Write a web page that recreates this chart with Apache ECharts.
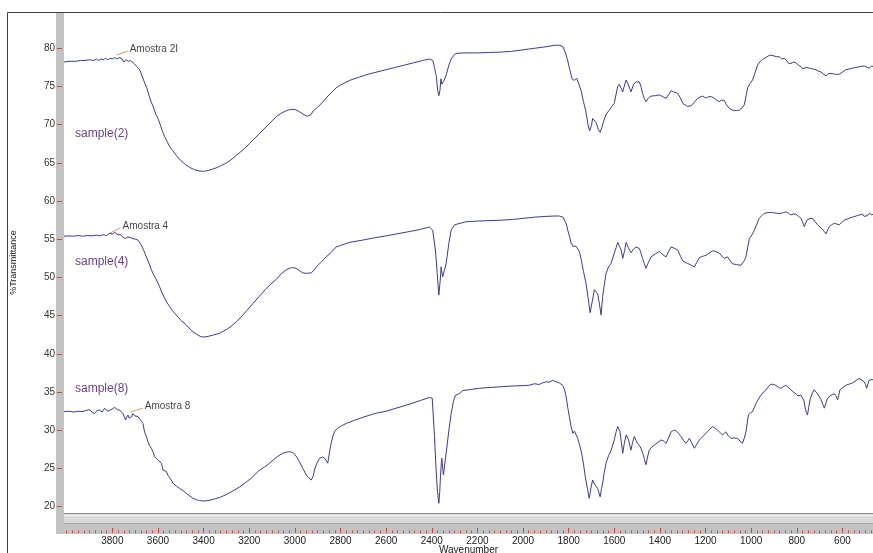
<!DOCTYPE html>
<html>
<head>
<meta charset="utf-8">
<script src="https://cdn.jsdelivr.net/npm/echarts@6/dist/echarts.min.js"></script>
<style>
  html, body { margin: 0; padding: 0; background: #fff; }
  #chart { width: 873px; height: 553px; }
</style>
</head>
<body>
<div id="chart"></div>
<script>
// FTIR spectra: [wavenumber (cm-1), %Transmittance]
const sample2 = [
  [4012,78.2],[3990,78.3],[3960,78.3],[3940,78.4],[3920,78.4],[3900,78.5],[3880,78.4],[3870,78.6],[3860,78.4],[3850,78.6],
  [3840,78.5],[3830,78.7],[3820,78.5],[3810,78.7],[3800,78.6],[3790,78.8],[3780,78.6],[3770,78.8],[3760,78.7],[3750,78.2],
  [3740,78.5],[3730,78.3],[3720,78.4],[3705,78.0],[3690,77.5],[3680,77.2],[3670,76.4],[3660,75.6],[3650,74.9],[3640,73.9],
  [3630,73.0],[3620,72.3],[3610,71.4],[3600,70.8],[3590,70.0],[3580,69.1],[3570,68.4],[3560,67.8],[3550,67.2],[3535,66.6],
  [3520,66.0],[3500,65.3],[3480,64.8],[3460,64.4],[3440,64.1],[3420,63.95],[3400,63.9],[3380,64.0],[3360,64.2],[3340,64.4],
  [3320,64.7],[3300,65.0],[3280,65.4],[3260,65.9],[3240,66.4],[3220,66.9],[3200,67.5],[3180,68.1],[3160,68.7],[3140,69.3],
  [3120,69.9],[3100,70.5],[3080,71.1],[3060,71.5],[3040,71.8],[3020,72.0],[3000,72.0],[2980,71.7],[2960,71.3],[2945,71.1],
  [2930,71.3],[2920,71.8],[2900,72.3],[2880,72.9],[2860,73.6],[2840,74.2],[2820,74.8],[2800,75.2],[2760,75.8],[2720,76.2],
  [2680,76.6],[2640,76.9],[2600,77.2],[2560,77.5],[2520,77.8],[2480,78.1],[2440,78.4],[2410,78.6],[2395,78.4],[2388,77.5],
  [2380,76.3],[2374,74.5],[2369,73.8],[2364,74.5],[2360,76.0],[2356,75.3],[2352,75.1],[2346,75.8],[2337,76.5],[2325,77.8],
  [2315,78.6],[2300,79.2],[2290,79.35],[2250,79.4],[2200,79.4],[2150,79.45],[2100,79.5],[2050,79.6],[2000,79.8],[1950,80.0],
  [1900,80.2],[1860,80.4],[1840,80.4],[1825,80.2],[1815,79.5],[1805,78.5],[1795,77.2],[1785,76.0],[1775,75.8],[1765,76.1],
  [1755,75.3],[1745,74.4],[1735,73.0],[1725,71.8],[1715,70.0],[1708,69.2],[1700,69.9],[1695,70.8],[1688,70.8],[1680,70.3],
  [1670,69.4],[1662,69.0],[1655,69.6],[1645,70.6],[1635,71.4],[1622,71.9],[1610,72.4],[1600,72.8],[1592,74.0],[1585,75.0],
  [1578,75.3],[1570,75.4],[1563,74.3],[1555,75.2],[1548,75.85],[1538,75.2],[1527,74.3],[1515,75.3],[1505,75.6],[1490,75.6],
  [1483,75.0],[1476,74.1],[1468,73.4],[1461,73.0],[1450,73.5],[1439,73.75],[1420,73.8],[1403,73.9],[1390,73.7],[1373,73.45],
  [1360,74.0],[1351,74.45],[1340,74.3],[1322,74.1],[1310,73.5],[1300,72.8],[1293,72.6],[1280,72.4],[1264,72.45],[1250,72.9],
  [1235,73.45],[1225,73.6],[1213,73.75],[1200,73.5],[1191,73.6],[1180,73.7],[1169,73.6],[1155,73.3],[1140,73.0],[1130,73.2],
  [1118,73.2],[1108,72.6],[1096,72.15],[1082,71.9],[1065,71.85],[1052,71.9],[1040,72.2],[1030,72.6],[1022,73.8],[1016,74.8],
  [1005,75.4],[994,75.85],[983,76.8],[972,77.8],[960,78.3],[950,78.55],[935,78.8],[925,79.0],[914,79.1],[900,79.0],
  [890,78.9],[877,78.9],[866,78.6],[855,78.7],[845,78.4],[835,78.0],[826,78.0],[815,78.2],[804,78.1],[793,77.8],
  [782,77.6],[775,77.3],[767,77.25],[756,77.5],[745,77.4],[730,77.3],[716,77.2],[705,77.0],[694,76.9],[683,76.6],
  [672,76.4],[660,76.7],[650,76.7],[643,76.8],[630,76.6],[614,76.6],[600,76.9],[585,77.2],[570,77.3],[555,77.4],
  [541,77.5],[520,77.6],[505,77.7],[498,77.7],[483,77.4],[471,77.7],[466,77.6]
];

const sample4 = [
  [4012,55.4],[3990,55.45],[3970,55.4],[3950,55.5],[3930,55.4],[3910,55.5],[3890,55.45],[3870,55.55],[3855,55.45],[3840,55.6],
  [3825,55.5],[3812,55.8],[3800,55.7],[3790,55.9],[3775,55.6],[3765,55.6],[3754,55.3],[3745,55.1],[3739,55.0],[3732,55.3],
  [3720,55.2],[3710,55.1],[3698,55.0],[3688,54.9],[3680,54.7],[3673,54.25],[3662,53.5],[3651,52.7],[3640,51.9],[3629,51.0],
  [3618,50.3],[3607,49.7],[3593,48.8],[3582,48.0],[3571,47.3],[3560,46.7],[3549,46.2],[3535,45.6],[3520,45.1],[3500,44.4],
  [3476,43.8],[3455,43.1],[3432,42.6],[3415,42.3],[3403,42.2],[3380,42.3],[3360,42.45],[3330,42.7],[3300,43.2],[3280,43.6],
  [3257,44.2],[3230,45.0],[3210,45.7],[3184,46.6],[3160,47.4],[3130,48.4],[3111,49.0],[3080,49.8],[3060,50.5],[3038,51.0],
  [3020,51.25],[3009,51.3],[2995,51.2],[2980,50.9],[2965,50.6],[2950,50.55],[2928,50.6],[2915,51.0],[2906,51.4],[2885,52.0],
  [2863,52.7],[2840,53.3],[2819,54.0],[2800,54.2],[2760,54.6],[2702,54.9],[2650,55.2],[2600,55.45],[2556,55.7],[2500,56.0],
  [2450,56.3],[2410,56.6],[2396,56.2],[2384,53.6],[2376,50.5],[2369,47.7],[2363,49.6],[2359,51.4],[2355,50.6],[2352,50.1],
  [2345,50.9],[2337,51.85],[2325,54.5],[2315,56.2],[2300,56.9],[2293,57.1],[2250,57.3],[2191,57.4],[2100,57.5],[2045,57.6],
  [1950,57.9],[1899,58.0],[1860,58.05],[1841,58.05],[1825,57.9],[1819,57.75],[1810,57.0],[1804,56.2],[1795,55.2],[1789,54.5],
  [1782,54.1],[1775,54.0],[1768,54.1],[1761,54.25],[1753,53.4],[1746,52.5],[1735,50.8],[1724,49.25],[1715,47.4],[1706,45.4],
  [1697,46.8],[1687,48.4],[1680,48.3],[1673,47.9],[1665,46.5],[1658,45.1],[1651,47.5],[1644,49.0],[1636,50.55],[1625,51.4],
  [1614,51.85],[1600,53.2],[1592,53.9],[1585,54.6],[1578,54.1],[1570,53.6],[1563,52.5],[1555,53.5],[1548,54.6],[1538,53.9],
  [1527,53.25],[1516,53.7],[1505,54.0],[1490,53.8],[1483,53.2],[1476,52.5],[1468,51.8],[1461,51.2],[1450,52.0],[1439,52.7],
  [1420,53.1],[1403,53.4],[1388,53.0],[1373,52.7],[1362,53.4],[1351,54.0],[1335,53.8],[1322,53.6],[1310,52.8],[1300,52.2],
  [1290,52.0],[1279,51.85],[1262,51.6],[1249,51.4],[1238,52.0],[1227,52.6],[1210,52.8],[1198,52.9],[1185,53.2],[1169,53.5],
  [1155,53.4],[1140,53.2],[1128,52.8],[1118,52.5],[1104,52.7],[1092,52.2],[1082,51.8],[1065,51.7],[1045,51.6],[1030,52.2],
  [1023,52.7],[1015,54.0],[1008,55.1],[996,55.6],[986,56.2],[975,57.0],[965,57.75],[953,58.1],[943,58.4],[925,58.5],
  [906,58.5],[888,58.4],[870,58.4],[858,58.5],[848,58.6],[836,58.4],[826,58.2],[815,58.3],[804,58.3],[793,58.0],
  [782,57.75],[775,57.3],[767,56.65],[760,57.2],[753,57.6],[742,57.7],[731,57.75],[720,57.3],[709,56.9],[698,56.6],
  [687,56.3],[679,56.0],[672,55.7],[665,56.2],[658,56.65],[647,56.9],[636,57.1],[625,57.0],[614,56.9],[603,57.2],
  [592,57.5],[575,57.7],[556,57.9],[535,58.1],[512,58.3],[505,58.0],[498,57.75],[490,58.1],[483,58.4],[471,58.2],[466,58.3]
];

const sample8 = [
  [4012,32.45],[3990,32.5],[3970,32.4],[3950,32.5],[3929,32.45],[3915,32.6],[3899,32.7],[3888,32.3],[3878,32.2],[3866,32.6],
  [3856,32.65],[3845,32.4],[3834,32.9],[3822,32.5],[3812,32.6],[3800,32.8],[3790,33.0],[3778,32.7],[3768,32.65],[3760,32.5],
  [3754,32.2],[3748,31.8],[3742,31.35],[3737,31.7],[3732,32.0],[3726,31.6],[3720,31.4],[3715,31.8],[3710,32.2],[3702,31.9],
  [3695,31.7],[3688,31.8],[3680,31.6],[3673,31.2],[3666,30.9],[3659,29.8],[3652,29.3],[3644,28.5],[3637,28.0],[3629,27.65],
  [3622,27.2],[3615,26.55],[3608,26.4],[3600,26.1],[3593,25.9],[3585,25.7],[3578,24.8],[3570,24.9],[3563,24.6],[3556,24.1],
  [3549,23.85],[3542,23.5],[3535,23.1],[3520,22.7],[3505,22.4],[3490,22.1],[3476,21.75],[3460,21.4],[3447,21.1],[3430,20.9],
  [3418,20.8],[3403,20.75],[3380,20.8],[3355,21.0],[3330,21.2],[3300,21.6],[3270,22.1],[3242,22.6],[3210,23.3],[3185,23.9],
  [3169,24.4],[3150,24.9],[3133,25.2],[3115,25.6],[3096,26.1],[3075,26.6],[3053,27.0],[3038,27.15],[3023,27.2],[3010,27.1],
  [3001,26.9],[2990,26.4],[2980,25.9],[2965,25.0],[2950,24.15],[2940,23.8],[2928,23.5],[2920,24.0],[2914,24.8],[2905,25.6],
  [2892,26.35],[2880,26.5],[2870,26.35],[2862,26.0],[2856,25.7],[2848,27.2],[2841,28.3],[2834,29.2],[2825,29.9],[2812,30.3],
  [2795,30.6],[2775,30.9],[2740,31.3],[2702,31.7],[2650,32.2],[2600,32.5],[2556,32.9],[2500,33.4],[2450,33.9],[2410,34.3],
  [2398,34.2],[2388,29.2],[2381,24.8],[2375,22.0],[2369,20.45],[2365,22.0],[2362,23.9],[2358,25.8],[2356,26.35],[2352,25.0],
  [2349,24.15],[2343,25.6],[2337,27.0],[2325,30.0],[2315,32.2],[2305,33.8],[2296,34.6],[2279,34.8],[2264,35.2],[2230,35.35],
  [2191,35.5],[2150,35.6],[2100,35.7],[2045,35.8],[2000,35.85],[1972,35.9],[1950,36.1],[1930,36.0],[1915,36.2],[1899,36.35],
  [1885,36.3],[1870,36.55],[1862,36.3],[1855,36.35],[1848,36.5],[1841,36.2],[1826,35.9],[1818,35.3],[1811,34.4],[1804,33.0],
  [1797,31.8],[1790,30.6],[1782,29.6],[1775,29.9],[1768,29.7],[1761,29.0],[1754,28.3],[1746,27.4],[1739,26.35],[1733,25.2],
  [1727,23.9],[1718,22.4],[1710,21.1],[1702,22.5],[1695,23.5],[1689,23.1],[1683,22.8],[1678,22.6],[1673,22.4],[1667,21.8],
  [1662,21.3],[1656,22.4],[1651,23.1],[1644,24.5],[1636,25.7],[1625,26.7],[1614,27.4],[1600,28.75],[1592,29.8],[1585,30.5],
  [1575,29.8],[1569,28.5],[1563,27.0],[1556,28.3],[1548,29.4],[1543,29.2],[1537,28.75],[1532,28.0],[1527,27.4],[1520,28.4],
  [1512,29.2],[1505,28.7],[1498,28.3],[1490,28.0],[1483,27.65],[1475,27.0],[1468,26.2],[1461,25.5],[1454,26.5],[1447,27.4],
  [1436,27.8],[1425,28.05],[1410,28.4],[1395,28.75],[1384,28.6],[1373,28.3],[1362,29.0],[1351,29.8],[1340,30.0],[1330,30.0],
  [1319,29.6],[1308,29.2],[1297,28.7],[1286,28.3],[1278,28.6],[1271,28.95],[1260,28.3],[1249,27.65],[1238,28.2],[1227,28.75],
  [1212,29.2],[1198,29.6],[1183,30.1],[1169,30.5],[1158,30.3],[1147,30.0],[1136,29.7],[1125,29.4],[1118,29.6],[1111,29.8],
  [1100,29.3],[1089,28.95],[1075,29.0],[1060,28.95],[1049,28.6],[1038,28.3],[1030,29.0],[1023,29.8],[1016,31.2],[1012,32.0],
  [1003,32.3],[994,32.45],[986,33.0],[979,33.5],[968,34.1],[957,34.6],[946,35.0],[935,35.3],[925,35.7],[914,36.05],
  [903,36.0],[892,35.9],[880,35.6],[870,35.5],[860,35.7],[848,35.9],[837,35.6],[826,35.3],[815,35.0],[804,34.8],
  [796,34.5],[789,34.4],[782,34.6],[775,34.8],[769,33.9],[763,32.9],[758,32.3],[753,32.0],[748,33.0],[742,34.0],
  [733,34.8],[724,35.3],[716,35.1],[709,34.8],[701,34.4],[694,34.0],[686,33.4],[679,32.9],[672,33.6],[665,34.2],
  [657,34.4],[650,34.6],[643,34.7],[636,34.8],[628,34.5],[621,34.0],[616,34.6],[611,35.3],[598,35.6],[585,35.9],
  [570,36.05],[556,36.2],[541,36.5],[527,36.8],[516,36.6],[505,36.35],[499,36.0],[494,35.5],[488,36.1],[483,36.55],
  [477,36.6],[471,36.65],[466,36.6]
];

// Sample names and peak-table annotations
const sampleNames = ['sample(2)', 'sample(4)', 'sample(8)'];
const annotationText = ['Amostra 2I', 'Amostra 4', 'Amostra 8'];
const leaderFrom = [[3781, 79.1], [3812, 55.8], [3720, 32.4]];
const leaderTo = [[3733, 79.65], [3764, 56.5], [3667, 32.9]];

// Axis ticks
const yTicks = [20, 25, 30, 35, 40, 45, 50, 55, 60, 65, 70, 75, 80];
const xMajorTicks = [600, 800, 1000, 1200, 1400, 1600, 1800, 2000, 2200, 2400, 2600, 2800, 3000, 3200, 3400, 3600, 3800];
const xMinorTicks = [];
for (let w = 475; w <= 4000; w += 25) xMinorTicks.push(w);

const X_MIN = 466, X_MAX = 4012, Y_MIN = 19.18, Y_MAX = 84.75;
const FONT = 'Liberation Sans';
const TICK_RED = '#e0403a';
const LINE_BLUE = '#3a3a9a';

const chart = echarts.init(document.getElementById('chart'), null, { renderer: 'canvas' });

const spectra = [sample2, sample4, sample8].map((d, i) => ({
  type: 'line',
  name: sampleNames[i],
  data: d,
  xAxisIndex: 0,
  yAxisIndex: 0,
  showSymbol: false,
  symbol: 'none',
  smooth: false,
  clip: true,
  lineStyle: { color: LINE_BLUE, width: 1 },
  z: 3,
  silent: true
}));

const leaders = annotationText.map((t, i) => ({
  type: 'line',
  data: [leaderFrom[i], leaderTo[i]],
  showSymbol: false,
  symbol: 'none',
  lineStyle: { color: '#d49a5c', width: 1 },
  z: 4,
  silent: true
}));

const annotationLabels = {
  type: 'scatter',
  data: leaderTo.map((p, i) => ({ value: p, name: annotationText[i] })),
  symbolSize: 0,
  z: 5,
  silent: true,
  label: {
    show: true,
    position: 'right',
    distance: 2,
    offset: [0, -2],
    formatter: p => p.name,
    color: '#111',
    fontFamily: FONT,
    fontSize: 10
  }
};

const plainNumber = v => String(v);

const option = {
  animation: false,
  backgroundColor: '#ffffff',
  grid: { left: 64, right: 0, top: 12, bottom: 40, containLabel: false, outerBoundsMode: 'none' },
  xAxis: [
    {
      type: 'value',
      min: X_MIN, max: X_MAX,
      inverse: true,
      position: 'bottom',
      offset: 20,
      z: 6,
      name: 'Wavenumber',
      nameLocation: 'middle',
      nameGap: 12,
      nameMoveOverlap: false,
      nameTextStyle: { fontFamily: FONT, fontSize: 10, color: '#222' },
      axisLine: { show: false, onZero: false },
      axisTick: { show: true, inside: true, length: 5, lineStyle: { color: TICK_RED, width: 1 }, customValues: xMajorTicks },
      axisLabel: { show: true, customValues: xMajorTicks, formatter: plainNumber, fontFamily: FONT, fontSize: 10, color: '#222', margin: 3 },
      splitLine: { show: false }
    },
    {
      type: 'value',
      min: X_MIN, max: X_MAX,
      inverse: true,
      position: 'bottom',
      offset: 20,
      z: 6,
      axisLine: { show: false, onZero: false },
      axisTick: { show: true, inside: true, length: 2.5, lineStyle: { color: TICK_RED, width: 1 }, customValues: xMinorTicks },
      axisLabel: { show: false },
      splitLine: { show: false }
    }
  ],
  yAxis: {
    type: 'value',
    min: Y_MIN, max: Y_MAX,
    position: 'left',
    offset: 2,
    z: 6,
    name: '%Transmittance',
    nameLocation: 'middle',
    nameRotate: 90,
    nameGap: 44,
    nameMoveOverlap: false,
    nameTextStyle: { fontFamily: FONT, fontSize: 9, color: '#222' },
    axisLine: { show: false, onZero: false },
    axisTick: { show: true, length: 5, lineStyle: { color: TICK_RED, width: 1 }, customValues: yTicks },
    axisLabel: { show: true, customValues: yTicks, formatter: plainNumber, fontFamily: FONT, fontSize: 10, color: '#333', margin: 7 },
    splitLine: { show: false }
  },
  graphic: {
    elements: [
      // window frame (top and left edges)
      { type: 'rect', z: 1, shape: { x: 7.5, y: 12.5, width: 1200, height: 1200 },
        style: { fill: 'none', stroke: '#404040', lineWidth: 1 } },
      // vertical grey strip behind the y ticks
      { type: 'rect', z: 1, shape: { x: 56, y: 13, width: 8, height: 521 }, style: { fill: '#c3c3c3' } },
      // tick strip under the x axis
      { type: 'rect', z: 1, shape: { x: 56, y: 524, width: 830, height: 10 }, style: { fill: '#c3c3c3' } },
      // scroll band
      { type: 'rect', z: 1, shape: { x: 64, y: 513, width: 820, height: 11 }, style: { fill: '#d8d8d8' } },
      { type: 'line', z: 1, shape: { x1: 64, y1: 513.5, x2: 880, y2: 513.5 }, style: { stroke: '#8c8c8c', lineWidth: 1 } },
      { type: 'line', z: 1, shape: { x1: 64, y1: 515.5, x2: 880, y2: 515.5 }, style: { stroke: '#f2f2f2', lineWidth: 1 } },
      { type: 'line', z: 1, shape: { x1: 64, y1: 523.5, x2: 880, y2: 523.5 }, style: { stroke: '#a8a8a8', lineWidth: 1 } },
      // sample names
      { type: 'text', z: 5, style: { text: sampleNames[0], x: 75, y: 134, fill: '#6b3f8e', fontFamily: FONT, fontSize: 12, verticalAlign: 'middle' } },
      { type: 'text', z: 5, style: { text: sampleNames[1], x: 75, y: 262, fill: '#6b3f8e', fontFamily: FONT, fontSize: 12, verticalAlign: 'middle' } },
      { type: 'text', z: 5, style: { text: sampleNames[2], x: 75, y: 389, fill: '#6b3f8e', fontFamily: FONT, fontSize: 12, verticalAlign: 'middle' } }
    ]
  },
  series: [...spectra, ...leaders, annotationLabels]
};

chart.setOption(option);
</script>
</body>
</html>
